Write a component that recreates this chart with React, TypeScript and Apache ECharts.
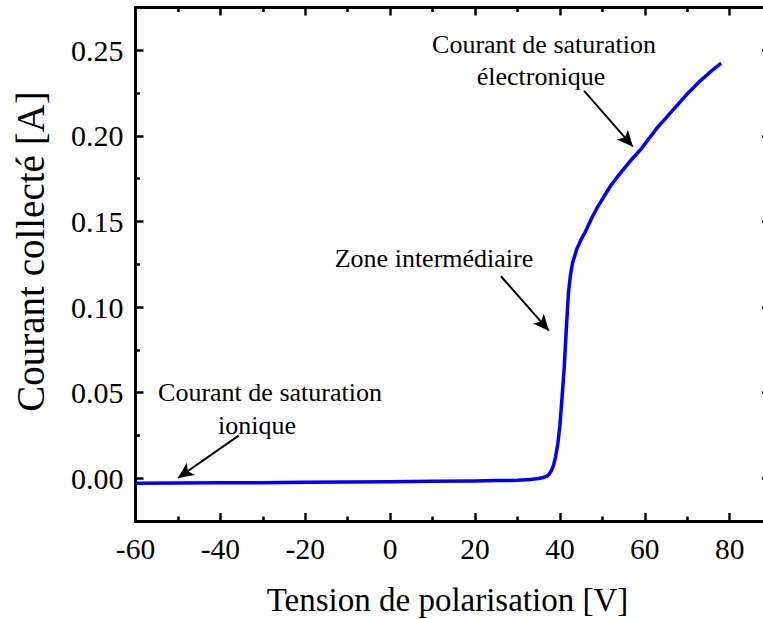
import React, { useEffect, useRef } from "react";
import * as echarts from "echarts";

// Probe characteristic: bias voltage (V) vs collected current (A)
const voltage = [
  -60, -50, -40, -30, -20, -10, 0, 10, 20, 25, 30, 33, 35, 36, 37, 37.5, 38, 38.5, 39, 39.5,
  40, 40.5, 41, 41.5, 42, 42.5, 43, 44, 45, 46, 47.5, 49, 50.5, 52, 54, 55.5, 57, 59, 61, 63,
  65, 67.5, 70, 73, 75.5, 78,
];
const current = [
  -0.0029, -0.0028, -0.0027, -0.0026, -0.0024, -0.0022, -0.002, -0.0018, -0.0016, -0.0014,
  -0.0012, -0.0007, -0.0002, 0.0004, 0.0013, 0.0025, 0.0045, 0.0075, 0.0128, 0.02,
  0.031, 0.047, 0.064, 0.087, 0.108, 0.119, 0.126, 0.134, 0.1395, 0.144, 0.152, 0.159,
  0.165, 0.171, 0.1775, 0.182, 0.1865, 0.192, 0.1985, 0.205, 0.2105, 0.2175, 0.2245,
  0.232, 0.2375, 0.2425,
];

const xMajorTicks = [-60, -40, -20, 0, 20, 40, 60, 80];
const xMinorTicks = [-50, -30, -10, 10, 30, 50, 70];
const yMajorTicks = [0, 0.05, 0.1, 0.15, 0.2, 0.25];
const yMinorTicks = [0.025, 0.075, 0.125, 0.175, 0.225];

// annotation arrows: [fromX, fromY, toX, toY] in data units
const arrowIonique = [-35.7, 0.0249, -50.0, 0.0001];
const arrowZone = [26.1, 0.118, 37.4, 0.0862];
const arrowElectronique = [45.7, 0.2263, 57.2, 0.1937];

const X_MIN = -60;
const X_MAX = 89.5;
const Y_MIN = -0.025;
const Y_MAX = 0.275;

const FONT = "Liberation Serif";
const CHART_W = 790;

function App() {
  const ref = useRef<HTMLDivElement>(null);

  useEffect(() => {
    if (!ref.current) return;
    const chart = echarts.init(ref.current, undefined, { renderer: "svg" });

    const lineStyleAxis = { color: "#000", width: 3 };
    const tickMajor = (vals: number[]) => ({
      show: true,
      inside: true,
      length: 8,
      lineStyle: { color: "#000", width: 2.5 },
      customValues: vals,
    });
    const tickMinor = (vals: number[]) => ({
      show: true,
      inside: true,
      length: 4.5,
      lineStyle: { color: "#000", width: 2.5 },
      customValues: vals,
    });

    const baseX = {
      type: "value" as const,
      min: X_MIN,
      max: X_MAX,
      splitLine: { show: false },
      axisLabel: { show: false },
    };
    const baseY = {
      type: "value" as const,
      min: Y_MIN,
      max: Y_MAX,
      splitLine: { show: false },
      axisLabel: { show: false },
    };

    const mkArrow = (a: number[]) => [
      { coord: [a[0], a[1]], symbol: "none" },
      { coord: [a[2], a[3]], symbol: "arrow", symbolSize: [11, 16] },
    ];

    const txt = (
      text: string,
      x: number,
      y: number,
      fontSize: number,
      align = "center",
      rotation = 0
    ) => ({
      type: "text",
      x,
      y,
      rotation,
      silent: true,
      style: {
        text,
        fontFamily: FONT,
        fontSize,
        fill: "#000",
        textAlign: align,
        textVerticalAlign: "middle",
      },
    });

    chart.setOption({
      animation: false,
      backgroundColor: "#fff",
      textStyle: { fontFamily: FONT },
      grid: {
        left: 135.5,
        top: 7.5,
        right: CHART_W - 770,
        bottom: 619 - 521,
        containLabel: false,
        outerBoundsMode: "none",
      },
      xAxis: [
        {
          ...baseX,
          position: "bottom",
          axisLine: { show: true, onZero: false, lineStyle: lineStyleAxis },
          axisTick: tickMajor(xMajorTicks),
        },
        {
          ...baseX,
          position: "bottom",
          axisLine: { show: false, onZero: false },
          axisTick: tickMinor(xMinorTicks),
        },
        {
          ...baseX,
          position: "top",
          axisLine: { show: true, onZero: false, lineStyle: lineStyleAxis },
          axisTick: tickMajor(xMajorTicks),
        },
        {
          ...baseX,
          position: "top",
          axisLine: { show: false, onZero: false },
          axisTick: tickMinor(xMinorTicks),
        },
      ],
      yAxis: [
        {
          ...baseY,
          position: "left",
          axisLine: { show: true, onZero: false, lineStyle: lineStyleAxis },
          axisTick: tickMajor(yMajorTicks),
        },
        {
          ...baseY,
          position: "left",
          axisLine: { show: false, onZero: false },
          axisTick: tickMinor(yMinorTicks),
        },
        {
          ...baseY,
          position: "right",
          axisLine: { show: true, onZero: false, lineStyle: lineStyleAxis },
          axisTick: tickMajor(yMajorTicks),
        },
        {
          ...baseY,
          position: "right",
          axisLine: { show: false, onZero: false },
          axisTick: tickMinor(yMinorTicks),
        },
      ],
      series: [
        {
          type: "line",
          xAxisIndex: 0,
          yAxisIndex: 0,
          data: voltage.map((v, i) => [v, current[i]]),
          showSymbol: false,
          smooth: false,
          lineStyle: { color: "#0000ff", width: 3.5, join: "round" },
          itemStyle: { color: "#0000ff" },
          silent: true,
          markLine: {
            silent: true,
            animation: false,
            symbol: ["none", "arrow"],
            symbolSize: 15,
            label: { show: false },
            lineStyle: { color: "#000", width: 2, type: "solid" },
            itemStyle: { color: "#000" },
            emphasis: { disabled: true },
            data: [mkArrow(arrowIonique), mkArrow(arrowZone), mkArrow(arrowElectronique)],
          },
        },
      ],
    });

    // tick labels placed through the axes' own scales
    const xAxisY = chart.convertToPixel({ yAxisIndex: 0 }, Y_MIN) as number;
    const yAxisX = chart.convertToPixel({ xAxisIndex: 0 }, X_MIN) as number;
    const tickLabels: any[] = [];
    xMajorTicks.forEach((v) => {
      const px = chart.convertToPixel({ xAxisIndex: 0 }, v) as number;
      tickLabels.push(txt(String(v), px, xAxisY + 28, 29.5));
    });
    yMajorTicks.forEach((v) => {
      const py = chart.convertToPixel({ yAxisIndex: 0 }, v) as number;
      tickLabels.push(txt(v.toFixed(2), yAxisX - 12, py, 30, "right"));
    });

    chart.setOption({
      graphic: [
        ...tickLabels,
        txt("Courant de saturation", 270, 392, 26),
        txt("ionique", 257, 425, 26),
        txt("Zone intermédiaire", 434, 258, 26),
        txt("Courant de saturation", 544, 44, 26),
        txt("électronique", 541, 76, 26),
        txt("Tension de polarisation [V]", 447.5, 600, 33),
        txt("Courant collecté [A]", 30, 251.5, 39, "center", Math.PI / 2),
      ],
    });

    return () => chart.dispose();
  }, []);

  return (
    <div
      style={{
        position: "fixed",
        left: 0,
        top: 0,
        width: 763,
        height: 619,
        overflow: "hidden",
        background: "#fff",
      }}
    >
      <div ref={ref} style={{ width: CHART_W, height: 619 }} />
    </div>
  );
}

export default App;
